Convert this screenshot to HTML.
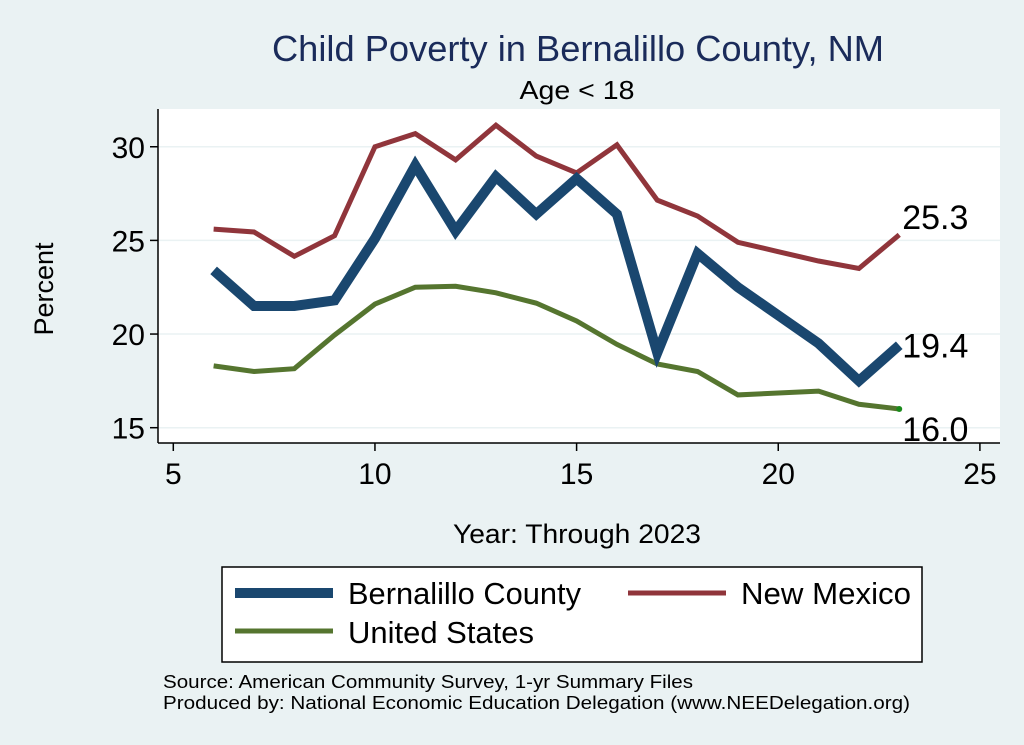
<!DOCTYPE html>
<html><head><meta charset="utf-8"><style>
body{margin:0;background:#eaf2f3;}
svg{display:block;font-family:"Liberation Sans",Arial,sans-serif;}
</style></head><body>
<svg id="chart" width="1024" height="745">
<rect x="0" y="0" width="1024" height="745" fill="#eaf2f3"/>
<text x="578" y="61" text-anchor="middle" font-size="36" fill="#1a2b5a" textLength="612" lengthAdjust="spacingAndGlyphs">Child Poverty in Bernalillo County, NM</text>
<text x="577" y="99" text-anchor="middle" font-size="26" fill="#000" textLength="115" lengthAdjust="spacingAndGlyphs">Age &lt; 18</text>
<rect x="158" y="109" width="842" height="334" fill="#fff"/>
<g id="grid"></g>
<g id="series"></g>
<line x1="158" y1="109" x2="158" y2="443" stroke="#000" stroke-width="1.5"/>
<line x1="158" y1="443" x2="1000" y2="443" stroke="#000" stroke-width="1.5"/>
<g id="axes"></g>
<text x="53" y="289" text-anchor="middle" font-size="27" transform="rotate(-90 53 289)">Percent</text>
<text x="577" y="543" text-anchor="middle" font-size="27" textLength="248" lengthAdjust="spacingAndGlyphs">Year: Through 2023</text>
<g>
<rect x="222" y="567" width="700" height="95" fill="#fff" stroke="#000" stroke-width="1.5"/>
<line x1="235" y1="593" x2="333" y2="593" stroke="#1a476f" stroke-width="10"/>
<text x="348" y="604" font-size="31" textLength="233" lengthAdjust="spacingAndGlyphs">Bernalillo County</text>
<line x1="628" y1="593" x2="726" y2="593" stroke="#90353b" stroke-width="5"/>
<text x="741" y="604" font-size="31" textLength="170" lengthAdjust="spacingAndGlyphs">New Mexico</text>
<line x1="235" y1="631" x2="333" y2="631" stroke="#55752f" stroke-width="5"/>
<text x="348" y="643" font-size="31" textLength="186" lengthAdjust="spacingAndGlyphs">United States</text>
</g>
<text x="163" y="688" font-size="18" textLength="530" lengthAdjust="spacingAndGlyphs">Source: American Community Survey, 1-yr Summary Files</text>
<text x="163" y="709" font-size="18" textLength="747" lengthAdjust="spacingAndGlyphs">Produced by: National Economic Education Delegation (www.NEEDelegation.org)</text>
</svg>
<script>
const years = [6,7,8,9,10,11,12,13,14,15,16,17,18,19,20,21,22,23];
const bernalillo = [23.4,21.5,21.5,21.8,25.1,29.0,25.5,28.4,26.4,28.3,26.4,19.0,24.3,22.5,21.0,19.5,17.5,19.4];
const newMexico = [25.6,25.45,24.15,25.25,30.0,30.7,29.3,31.15,29.5,28.6,30.1,27.15,26.3,24.9,24.4,23.9,23.5,25.3];
const unitedStates = [18.3,18.0,18.15,19.95,21.6,22.5,22.55,22.2,21.65,20.7,19.45,18.4,18.0,16.75,16.85,16.95,16.25,16.0];
const xTicks = [5,10,15,20,25];
const yTicks = [15,20,25,30];
const endLabels = ["19.4","25.3","16.0"];
const NS="http://www.w3.org/2000/svg";
function xs(v){return 173.3+(v-5)*40.33;}
function ys(v){return 427.7-(v-15)*18.73;}
function mk(tag,attrs,parent){const e=document.createElementNS(NS,tag);for(const k in attrs)e.setAttribute(k,attrs[k]);parent.appendChild(e);return e;}
const grid=document.getElementById('grid'),axes=document.getElementById('axes'),ser=document.getElementById('series');
yTicks.forEach(t=>{
 const g=mk('line',{x1:158,x2:1000,y1:ys(t),y2:ys(t),stroke:'#eaf2f3','stroke-width':1.5},grid);
 
 
 const tk=mk('line',{x1:150,x2:158,y1:ys(t),y2:ys(t),stroke:'#000','stroke-width':1.5},axes);
 
 
 const tx=mk('text',{x:145,y:ys(t)+11,'text-anchor':'end','font-size':30},axes);
 tx.textContent=t;
 
 
});
xTicks.forEach(t=>{
 const tk=mk('line',{x1:xs(t),x2:xs(t),y1:443,y2:451,stroke:'#000','stroke-width':1.5},axes);
 
 
 const tx=mk('text',{x:xs(t),y:484,'text-anchor':'middle','font-size':30},axes);
 tx.textContent=t;
 
 
});
function line(vals,color,w,name){
 const p=mk('polyline',{points:vals.map((v,i)=>xs(years[i])+','+ys(v)).join(' '),fill:'none',stroke:color,'stroke-width':w,'stroke-linejoin':'miter'},ser);
 
 
}
line(unitedStates,'#55752f',5,'line-united-states');
line(newMexico,'#90353b',5,'line-new-mexico');
line(bernalillo,'#1a476f',10,'line-bernalillo');
const n=years.length-1, lx=xs(years[n]);
const d=mk('circle',{cx:lx,cy:ys(unitedStates[n]),r:3,fill:'#1a8a1a'},ser);


[[bernalillo[n],endLabels[0],'label-bernalillo-end',12],[newMexico[n],endLabels[1],'label-new-mexico-end',-6],[unitedStates[n],endLabels[2],'label-us-end',32]].forEach(a=>{
 const t=mk('text',{x:lx+3,y:ys(a[0])+a[3],'font-size':34},ser);
 t.textContent=a[1];
 
 
});
</script>
</body></html>
